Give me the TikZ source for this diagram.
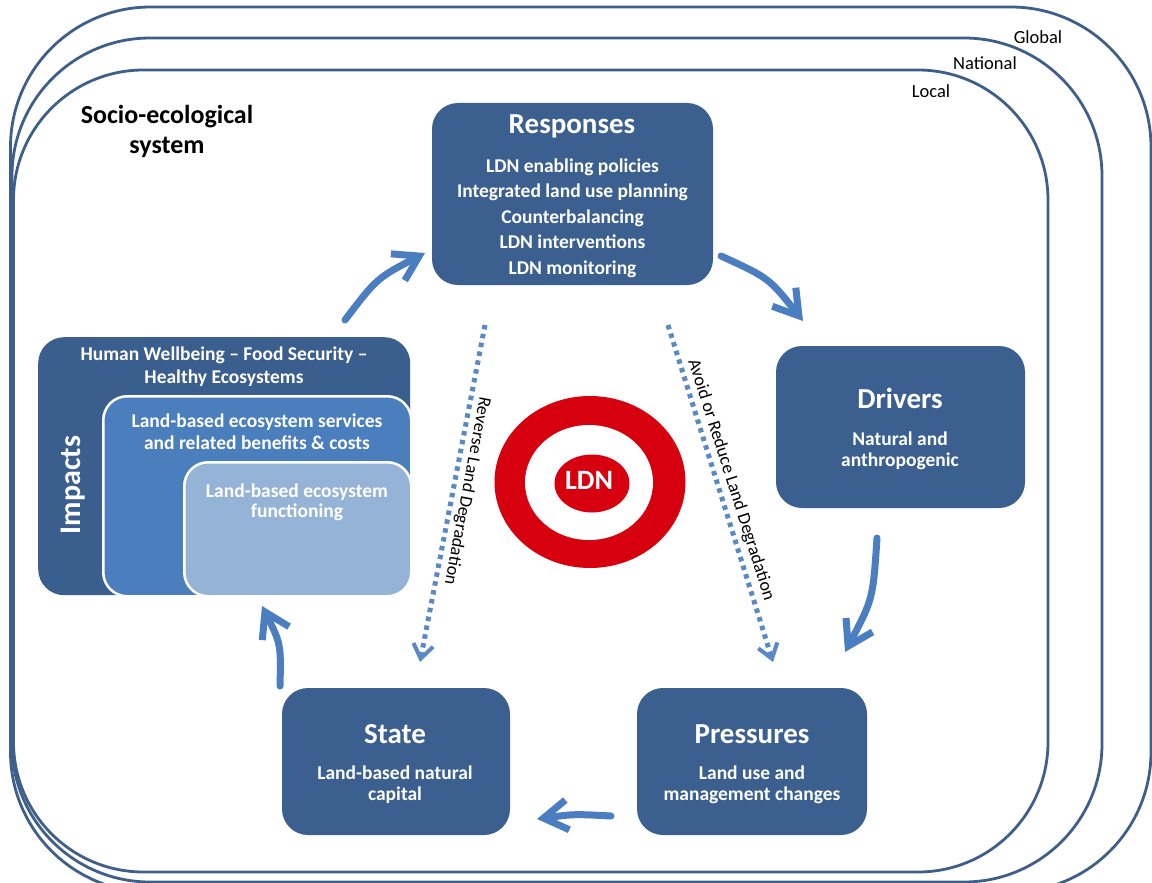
\documentclass[tikz,border=0pt]{standalone}
\usepackage{fontspec}
\setmainfont{Carlito}
\usetikzlibrary{arrows.meta,shapes.geometric}

\definecolor{frameblue}{HTML}{3F5F8B}
\definecolor{boxblue}{HTML}{3B6090}
\definecolor{impactblue}{HTML}{3A5E8E}
\definecolor{midblue}{HTML}{4A7EBD}
\definecolor{paleblue}{HTML}{95B3D7}
\definecolor{flowblue}{HTML}{4A7EC0}
\definecolor{dotblue}{HTML}{5B89C4}
\definecolor{targetred}{HTML}{D7000F}

\begin{document}
\begin{tikzpicture}[x=1pt,y=-1pt,
  scaleline/.style={draw=frameblue, line width=2.8pt},
  stagebox/.style={fill=boxblue, rounded corners=26pt, inner sep=0pt},
  nestbox/.style={draw=white, line width=2.5pt, rounded corners=24pt, inner sep=0pt, anchor=north west},
  titletext/.style={text=white, font=\fontsize{29}{33}\selectfont\bfseries, anchor=base, inner sep=0pt},
  bodytext/.style={text=white, font=\fontsize{19.5}{23}\selectfont\bfseries, anchor=base, inner sep=0pt},
  scaletext/.style={font=\fontsize{18.5}{22}\selectfont, anchor=base, inner sep=0pt},
  pathtext/.style={font=\fontsize{18}{21}\selectfont, inner sep=0pt},
  flow/.style={draw=flowblue, line width=7pt, line cap=round,
    -{Straight Barb[length=24pt, width=30pt]}},
  dotflow/.style={draw=dotblue, line width=5pt, dash pattern=on 4.5pt off 4.5pt,
    -{Straight Barb[length=14pt, width=20pt, line width=4pt]}},
  ring/.style={ellipse, inner sep=0pt}
]
\useasboundingbox (0,0) rectangle (1152,883);
\clip (0,0) rectangle (1152,883);
\fill[white] (0,0) rectangle (1152,883);

% Global / National / Local scales
\draw[scaleline, rounded corners=140pt] (10.5,7) rectangle (1151,892);
\draw[scaleline, rounded corners=138pt] (12,38) rectangle (1102,882);
\draw[scaleline, rounded corners=130pt] (13.5,70) rectangle (1048,872);
\node[scaletext] (lglobal) at (1038,43.5) {Global};
\node[scaletext] (lnational) at (985,70) {National};
\node[scaletext] (llocal) at (931,97.5) {Local};

\node[font=\fontsize{26}{30}\selectfont\bfseries, anchor=base, inner sep=0pt] (ses1) at (167,123) {Socio-ecological};
\node[font=\fontsize{26}{30}\selectfont\bfseries, anchor=base, inner sep=0pt] (ses2) at (167,153) {system};

% Responses
\node[stagebox, minimum width=281pt, minimum height=182pt] (resp) at (572.5,194) {};
\node[titletext] (respt) at (572,133) {Responses};
\foreach \txt [count=\i from 0] in {LDN enabling policies,Integrated land use planning,Counterbalancing,LDN interventions,LDN monitoring}
  \node[bodytext] (resp\i) at (572.5,172+25.5*\i) {\txt};

% Drivers
\node[stagebox, minimum width=249pt, minimum height=162pt] (drv) at (900.5,427) {};
\node[titletext] (drvt) at (900,408) {Drivers};
\node[bodytext] (drv1) at (900,445) {Natural and};
\node[bodytext] (drv2) at (900,466) {anthropogenic};

% Pressures
\node[stagebox, minimum width=230pt, minimum height=147pt] (prs) at (752,761.5) {};
\node[titletext] (prst) at (752,743) {Pressures};
\node[bodytext] (prs1) at (752,779) {Land use and};
\node[bodytext] (prs2) at (752,800) {management changes};

% State
\node[stagebox, minimum width=228pt, minimum height=147pt] (sta) at (396,761.5) {};
\node[titletext] (stat) at (395,743) {State};
\node[bodytext] (sta1) at (395,779) {Land-based natural};
\node[bodytext] (sta2) at (395,800) {capital};

% Impacts: nested boxes
\node[fill=impactblue, rounded corners=26pt, inner sep=0pt, anchor=north west,
      minimum width=372pt, minimum height=258pt] (imp) at (38,337) {};
\node[nestbox, fill=midblue, minimum width=308pt, minimum height=200pt] (impmid) at (102,395) {};
\node[nestbox, fill=paleblue, minimum width=227pt, minimum height=134pt] (impin) at (183,461) {};
\node[titletext, font=\fontsize{30}{34}\selectfont\bfseries, rotate=90] (impt) at (80,485) {Impacts};
\node[bodytext] (imp1) at (224,360) {Human Wellbeing – Food Security –};
\node[bodytext] (imp2) at (224,383) {Healthy Ecosystems};
\node[bodytext] (imp3) at (257,427) {Land-based ecosystem services};
\node[bodytext] (imp4) at (257,449) {and related benefits \& costs};
\node[bodytext] (imp5) at (297,497) {Land-based ecosystem};
\node[bodytext] (imp6) at (297,517) {functioning};

% LDN target
\node[ring, fill=targetred, minimum width=191pt, minimum height=172pt] (tgt) at (590,482) {};
\node[ring, fill=white, minimum width=128pt, minimum height=115pt] (tgtw) at (589,482.5) {};
\node[ring, fill=targetred, minimum width=75pt, minimum height=58pt] (tgtc) at (592,483.5) {};
\node[text=white, font=\fontsize{28}{32}\selectfont\bfseries, anchor=base, inner sep=0pt] (ldn) at (589,489) {LDN};

% cycle arrows
\coordinate (a1s) at (345,320);  \coordinate (a1e) at (425,253);
\coordinate (a2s) at (721,256);  \coordinate (a2e) at (803,321);
\coordinate (a3s) at (877,538);  \coordinate (a3e) at (845,652);
\coordinate (a4s) at (611,816);  \coordinate (a4e) at (537,819);
\coordinate (a5s) at (280,686);  \coordinate (a5e) at (262,606);
\draw[flow] (a1s) .. controls (377,278) .. (a1e);
\draw[flow] (a2s) .. controls (769,278) .. (a2e);
\draw[flow] (a3s) .. controls (873,599) .. (a3e);
\draw[flow] (a4s) .. controls (574,814) .. (a4e);
\draw[flow] (a5s) .. controls (281,644) .. (a5e);

% dotted paths
\coordinate (d1s) at (485,325);  \coordinate (d1e) at (420,662);
\coordinate (d2s) at (668,325);  \coordinate (d2e) at (773,662);
\draw[dotflow] (d1s) -- (d1e);
\draw[dotflow] (d2s) -- (d2e);
\node[pathtext, rotate=-100.6] (rev) at (467,491) {Reverse Land Degradation};
\node[pathtext, rotate=-72.3] (avd) at (731,480) {Avoid or Reduce Land Degradation};
\end{tikzpicture}
\end{document}
